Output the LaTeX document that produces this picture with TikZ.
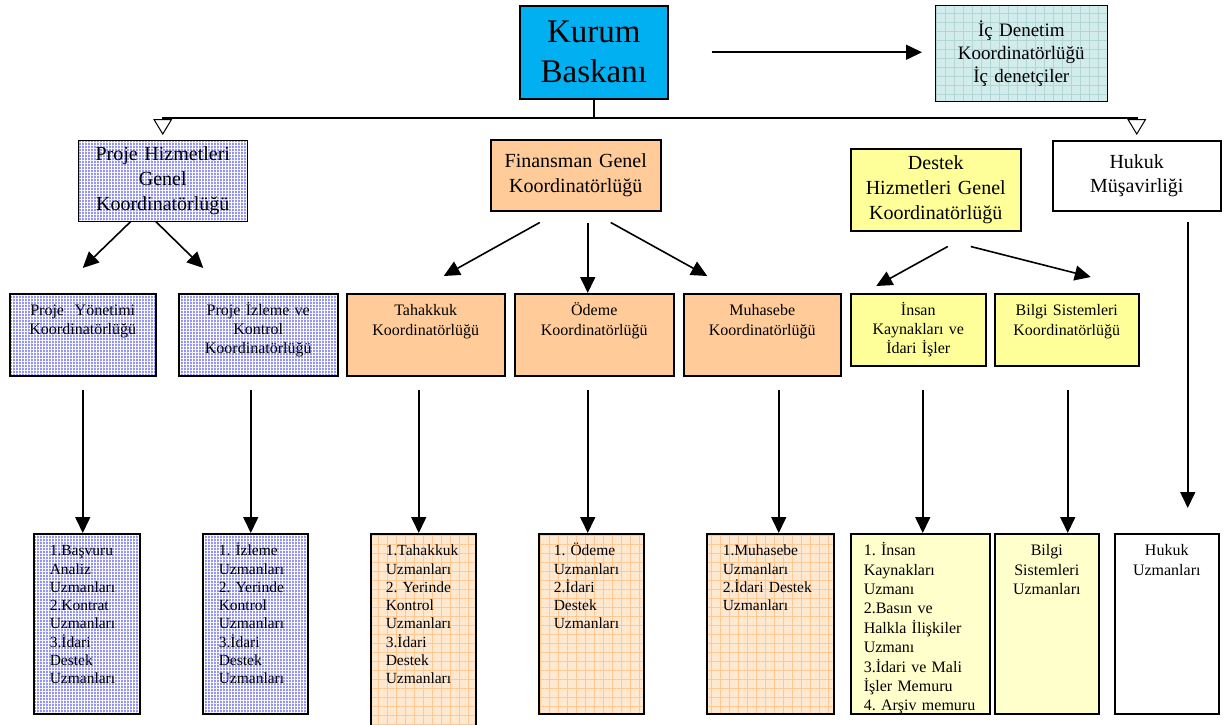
\documentclass[tikz,border=0pt]{standalone}
\usepackage{fontspec}
\setmainfont{Liberation Serif}
\usetikzlibrary{arrows.meta, patterns.meta}
\definecolor{kurumcyan}{HTML}{00B0F0}
\definecolor{icteal}{HTML}{D2EBEB}
\definecolor{tealline}{HTML}{B2D5D5}
\definecolor{projeblue}{HTML}{9494F5}
\definecolor{finorange}{HTML}{FFCC99}
\definecolor{finlight}{HTML}{FFE8D0}
\definecolor{finline}{HTML}{FFC892}
\definecolor{destekyellow}{HTML}{FFFF99}
\definecolor{desteklight}{HTML}{FFFFCC}
\newcommand{\fsz}[2]{\fontsize{#1}{#2}\selectfont}
\frenchspacing

\begin{document}
\begin{tikzpicture}[
  x=1pt, y=-1pt,
  every node/.style={font=\fsz{16}{19}},
  orgbox/.style={draw, line width=1.5pt, anchor=north west, inner sep=0pt, align=center},
  bluefill/.style={preaction={fill=projeblue}, pattern={Hatch[angle=0, distance=3pt, line width=0.5pt]}, pattern color=white},
  tealfill/.style={preaction={fill=icteal}, pattern={Hatch[angle=0, distance=9pt, line width=0.6pt]}, pattern color=tealline},
  peachfill/.style={preaction={fill=finlight}, pattern={Hatch[angle=0, distance=9pt, line width=0.6pt]}, pattern color=finline},
  arr/.style={-{Triangle[length=16pt, width=15pt]}, line width=1.6pt},
  openarr/.style={-{Triangle[open, length=16pt, width=19pt, line width=1pt]}, line width=1.6pt},
]
\useasboundingbox (0,0) rectangle (1231,724);

% top
\node[orgbox, fill=kurumcyan, minimum width=148pt, minimum height=93pt, text width=140pt, font=\fsz{33}{40}] (kurum) at (519,5) {Kurum\\Baskanı};
\node[orgbox, tealfill, minimum width=172pt, minimum height=96pt, text width=164pt, font=\fsz{19}{23}] (icdenetim) at (935,5) {İç Denetim\\Koordinatörlüğü\\İç denetçiler};

% general coordinators
\node[orgbox, bluefill, minimum width=169pt, minimum height=81pt, text width=161pt, font=\fsz{20}{25}] (projehiz) at (78,140) {Proje Hizmetleri\\Genel\\Koordinatörlüğü};
\node[orgbox, fill=finorange, minimum width=170pt, minimum height=71pt, text width=162pt, font=\fsz{20}{25}] (finansman) at (490,139) {Finansman Genel\\Koordinatörlüğü};
\node[orgbox, fill=destekyellow, minimum width=170pt, minimum height=82pt, text width=162pt, font=\fsz{20}{25}] (destek) at (850,148) {Destek\\Hizmetleri Genel\\Koordinatörlüğü};
\node[orgbox, fill=white, minimum width=168pt, minimum height=70pt, text width=160pt, font=\fsz{20}{24}] (hukuk) at (1052,140) {Hukuk\\Müşavirliği};

% coordinators
\node[orgbox, bluefill, inner xsep=4pt, text width=138pt, text height=22pt, text depth=60pt] (pyonetim) at (9,293) {Proje\ \ Yönetimi\\Koordinatörlüğü};
\node[orgbox, bluefill, inner xsep=4pt, text width=151pt, text height=22pt, text depth=60pt] (pizleme) at (178,293) {Proje İzleme ve\\Kontrol\\Koordinatörlüğü};
\node[orgbox, fill=finorange, inner xsep=4pt, text width=150pt, text height=22pt, text depth=60pt, font=\fsz{16}{20}] (tahakkuk) at (346,293) {Tahakkuk\\Koordinatörlüğü};
\node[orgbox, fill=finorange, inner xsep=4pt, text width=151pt, text height=22pt, text depth=60pt, font=\fsz{16}{20}] (odeme) at (514,293) {Ödeme\\Koordinatörlüğü};
\node[orgbox, fill=finorange, inner xsep=4pt, text width=149pt, text height=22pt, text depth=60pt, font=\fsz{16}{20}] (muhasebe) at (683,293) {Muhasebe\\Koordinatörlüğü};
\node[orgbox, fill=destekyellow, inner xsep=4pt, text width=127pt, text height=22pt, text depth=50pt] (insan) at (850,293) {İnsan\\Kaynakları ve\\İdari İşler};
\node[orgbox, fill=destekyellow, inner xsep=4pt, text width=136pt, text height=22pt, text depth=50pt, font=\fsz{16}{20}] (bilgi) at (994,293) {Bilgi Sistemleri\\Koordinatörlüğü};

% staff
\node[orgbox, bluefill, align=left, inner xsep=16pt, text width=74pt, text height=22pt, text depth=158pt, font=\fsz{15.5}{18.3}] (basvuru) at (33,533) {1.Başvuru\\Analiz\\Uzmanları\\2.Kontrat\\Uzmanları\\3.İdari\\Destek\\Uzmanları};
\node[orgbox, bluefill, align=left, inner xsep=16pt, text width=73pt, text height=22pt, text depth=158pt, font=\fsz{15.5}{18.3}] (izleme) at (202,533) {1. İzleme\\Uzmanları\\2. Yerinde\\Kontrol\\Uzmanları\\3.İdari\\Destek\\Uzmanları};
\node[orgbox, peachfill, align=left, inner xsep=15pt, text width=75pt, text height=22pt, text depth=178pt, font=\fsz{15.5}{18.3}] (tahakkuk3) at (370,533) {1.Tahakkuk\\Uzmanları\\2. Yerinde\\Kontrol\\Uzmanları\\3.İdari\\Destek\\Uzmanları};
\node[orgbox, peachfill, align=left, inner xsep=15pt, text width=75pt, text height=22pt, text depth=158pt, font=\fsz{15.5}{18.3}] (odeme3) at (538,533) {1. Ödeme\\Uzmanları\\2.İdari\\Destek\\Uzmanları};
\node[orgbox, peachfill, align=left, inner xsep=16pt, text width=95pt, text height=22pt, text depth=158pt, font=\fsz{15.5}{18.3}] (muhasebe3) at (706,533) {1.Muhasebe\\Uzmanları\\2.İdari Destek\\Uzmanları};
\node[orgbox, fill=desteklight, align=left, inner xsep=13pt, text width=113pt, text height=22pt, text depth=158pt, font=\fsz{16}{19.4}] (insan3) at (850,533) {1. İnsan\\Kaynakları\\Uzmanı\\2.Basın ve\\Halkla İlişkiler\\Uzmanı\\3.İdari ve Mali\\İşler Memuru\\4. Arşiv memuru};
\node[orgbox, fill=desteklight, inner xsep=4pt, text width=96pt, text height=22pt, text depth=158pt, font=\fsz{16}{19.4}] (bilgi3) at (994,533) {Bilgi\\Sistemleri\\Uzmanları};
\node[orgbox, fill=white, inner xsep=4pt, text width=96pt, text height=22pt, text depth=158pt, font=\fsz{16}{19.4}] (hukuk3) at (1114,533) {Hukuk\\Uzmanları};

% top links
\coordinate (busline) at (0,118);
\draw[arr] ([xshift=43pt]kurum.east) -- ([xshift=-13pt]icdenetim.west |- kurum.east);
\draw[line width=1.6pt] (kurum.south) -- (kurum.south |- busline) coordinate (hub);
\draw[openarr] (hub) -| ([yshift=5pt]projehiz.north);
\draw[openarr] (hub) -| ([yshift=5pt]hukuk.north);

% general -> coordinators
\draw[arr] ([xshift=-32pt]projehiz.south) -- ([yshift=25pt]pyonetim.north);
\draw[arr] ([xshift=-7pt]projehiz.south) -- ([xshift=-55pt,yshift=25pt]pizleme.north);
\draw[arr] ([xshift=-36pt,yshift=-11pt]finansman.south) -- ([xshift=18pt,yshift=17pt]tahakkuk.north);
\draw[arr] ([xshift=12pt,yshift=-11pt]finansman.south) -- ([xshift=-6.5pt]odeme.north);
\draw[arr] ([xshift=35pt,yshift=-11pt]finansman.south) -- ([xshift=-55pt,yshift=17pt]muhasebe.north);
\draw[arr] ([xshift=12pt,yshift=-15pt]destek.south) -- ([xshift=-42pt,yshift=7pt]insan.north);
\draw[arr] ([xshift=35pt,yshift=-15pt]destek.south) -- ([xshift=24pt,yshift=16pt]bilgi.north);
\draw[arr] ([xshift=51pt,yshift=-10pt]hukuk.south) -- ([xshift=21pt,yshift=25pt]hukuk3.north);

% coordinators -> staff
\draw[arr] ([yshift=-13pt]pyonetim.south) -- ([xshift=-4pt]basvuru.north);
\draw[arr] ([xshift=-7.5pt,yshift=-13pt]pizleme.south) -- ([xshift=-4.5pt]izleme.north);
\draw[arr] ([xshift=-7pt,yshift=-13pt]tahakkuk.south) -- ([xshift=-4.5pt]tahakkuk3.north);
\draw[arr] ([xshift=-6.5pt,yshift=-13pt]odeme.south) -- ([xshift=-3.5pt]odeme3.north);
\draw[arr] ([xshift=16.5pt,yshift=-13pt]muhasebe.south) -- ([xshift=8.5pt]muhasebe3.north);
\draw[arr] ([xshift=4.5pt,yshift=-23pt]insan.south) -- ([xshift=2.5pt]insan3.north);
\draw[arr] ([xshift=1pt,yshift=-23pt]bilgi.south) -- ([xshift=21pt]bilgi3.north);

\end{tikzpicture}
\end{document}
